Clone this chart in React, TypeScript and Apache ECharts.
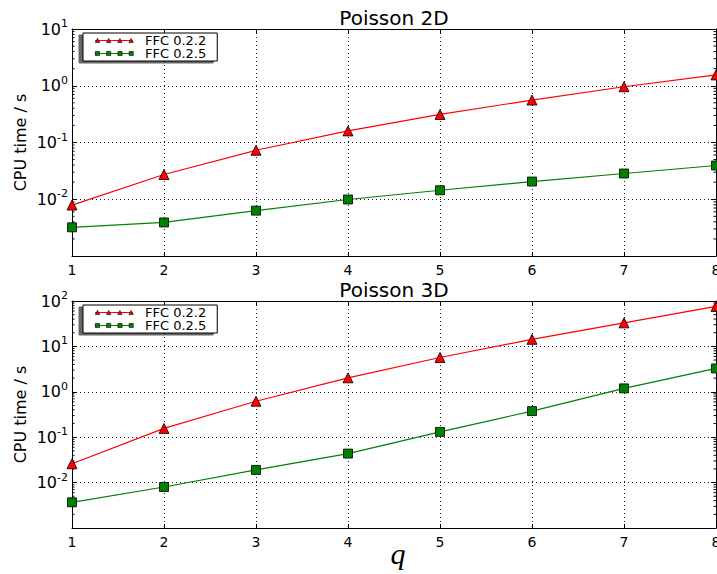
import React, { useEffect, useRef } from "react";
import * as echarts from "echarts";

// ---- data ----
const qValues = [1, 2, 3, 4, 5, 6, 7, 8];
const seriesNames = ["FFC 0.2.2", "FFC 0.2.5"];
const panelTitles = ["Poisson 2D", "Poisson 3D"];
const poisson2D_ffc022 = [0.0079, 0.0273, 0.073, 0.16, 0.312, 0.56, 0.96, 1.55];
const poisson2D_ffc025 = [0.0032, 0.0039, 0.0063, 0.0099, 0.0144, 0.0205, 0.0284, 0.0393];
const poisson3D_ffc022 = [0.026, 0.156, 0.62, 2.03, 5.7, 14.3, 33, 76];
const poisson3D_ffc025 = [0.00368, 0.008, 0.019, 0.0436, 0.131, 0.376, 1.19, 3.27];
const yMin = [0.001, 0.001];
const yMax = [10, 100];
const yAxisName = "CPU time / s";
const xAxisName = "q";
const minorMultipliers = [2, 3, 4, 5, 6, 7, 8, 9];
const decades2D = [0.001, 0.01, 0.1, 1];
const decades3D = [0.001, 0.01, 0.1, 1, 10];

const FONT = "DejaVu Sans";
const RED = "#ff0000";
const GREEN = "#008000";

const linePath = "path://M0,5.4L38,5.4L38,6.6L0,6.6Z";
const triPath =
  "path://M0,7.2L2.2,3L4.4,7.2Z M11.2,7.2L13.4,3L15.6,7.2Z M22.4,7.2L24.6,3L26.8,7.2Z M33.6,7.2L35.8,3L38,7.2Z";
const sqPath =
  "path://M0,3L4.2,3L4.2,7.2L0,7.2Z M11.2,3L15.4,3L15.4,7.2L11.2,7.2Z M22.6,3L26.8,3L26.8,7.2L22.6,7.2Z M33.8,3L38,3L38,7.2L33.8,7.2Z";

export default function App() {
  const ref = useRef<HTMLDivElement>(null);

  useEffect(() => {
    if (!ref.current) return;
    const chart = echarts.init(ref.current, undefined, { renderer: "svg" });

    const gridTops = [29, 301];
    const gridHeight = 227;
    const legendTops = [33, 305];
    const titleTops = [8, 280];
    const panelData = [
      [poisson2D_ffc022, poisson2D_ffc025],
      [poisson3D_ffc022, poisson3D_ffc025],
    ];
    const minorLists = [decades2D, decades3D].map((decs) => {
      const out: number[] = [];
      decs.forEach((d) => minorMultipliers.forEach((m) => out.push(+(d * m).toPrecision(3))));
      return out;
    });

    const grids: any[] = [];
    const xAxes: any[] = [];
    const yAxes: any[] = [];
    const series: any[] = [];
    const legends: any[] = [];
    const titles: any[] = [];

    const dotted = { color: "#222", width: 1, type: [1, 3] };

    for (let p = 0; p < 2; p++) {
      grids.push({
        left: 72,
        right: 1,
        top: gridTops[p],
        height: gridHeight,
        containLabel: false,
        outerBoundsMode: "none",
      });
      // bottom x axis
      xAxes.push({
        type: "value",
        gridIndex: p,
        min: 1,
        max: 8,
        interval: 1,
        position: "bottom",
        axisLine: { show: true, lineStyle: { color: "#000", width: 1 } },
        axisTick: { show: true, inside: true, length: 4, lineStyle: { color: "#000" } },
        axisLabel: { color: "#000", fontSize: 14, fontFamily: FONT, margin: 7 },
        splitLine: { show: true, lineStyle: dotted },
        ...(p === 1
          ? {
              name: xAxisName,
              nameLocation: "middle",
              nameGap: 10,
              nameMoveOverlap: false,
              nameTextStyle: {
                fontFamily: "Liberation Serif",
                fontStyle: "italic",
                fontSize: 30,
                lineHeight: 30,
                color: "#000",
                padding: [0, 0, 0, 8],
              },
            }
          : {}),
      });
      // top x axis (ticks only)
      xAxes.push({
        type: "value",
        gridIndex: p,
        min: 1,
        max: 8,
        interval: 1,
        position: "top",
        axisLine: { show: true, lineStyle: { color: "#000", width: 1 } },
        axisTick: { show: true, inside: true, length: 4, lineStyle: { color: "#000" } },
        axisLabel: { show: false },
        splitLine: { show: false },
      });
      // left y axis
      yAxes.push({
        type: "log",
        logBase: 10,
        gridIndex: p,
        min: yMin[p],
        max: yMax[p],
        splitNumber: p === 0 ? 4 : 5,
        position: "left",
        name: yAxisName,
        nameLocation: "middle",
        nameGap: 44,
        nameMoveOverlap: false,
        nameTextStyle: { color: "#000", fontSize: 16, fontFamily: FONT },
        axisLine: { show: true, lineStyle: { color: "#000", width: 1 } },
        axisTick: { show: true, inside: true, length: 5, lineStyle: { color: "#000" } },
        axisLabel: {
          showMinLabel: false,
          margin: 4,
          formatter: (v: number) => {
            const e = Math.round(Math.log10(v));
            return `{b|10}{s|${e}}`;
          },
          rich: {
            b: { fontSize: 16, lineHeight: 22, fontFamily: FONT, color: "#000" },
            s: { fontSize: 11, lineHeight: 12, verticalAlign: "top", fontFamily: FONT, color: "#000" },
          },
        },
        splitLine: { show: true, lineStyle: dotted },
      });
      // right y axis (ticks only)
      yAxes.push({
        type: "log",
        logBase: 10,
        gridIndex: p,
        min: yMin[p],
        max: yMax[p],
        splitNumber: p === 0 ? 4 : 5,
        position: "right",
        axisLine: { show: true, lineStyle: { color: "#000", width: 1 } },
        axisTick: { show: true, inside: true, length: 5, lineStyle: { color: "#000" } },
        axisLabel: { show: false },
        splitLine: { show: false },
      });

      const xi = p * 2;
      const yi = p * 2;
      // minor ticks on the log axes, placed through the axis scale
      series.push({
        type: "custom",
        name: "minor-ticks-" + p,
        xAxisIndex: xi,
        yAxisIndex: yi,
        silent: true,
        clip: false,
        z: 1,
        encode: { x: 0, y: 1 },
        data: minorLists[p].map((v) => [1, v]),
        renderItem: (_params: any, api: any) => {
          const v = api.value(1);
          const l = api.coord([1, v]);
          const r = api.coord([8, v]);
          const st = { stroke: "#000", lineWidth: 1 };
          return {
            type: "group",
            children: [
              { type: "line", shape: { x1: l[0], y1: l[1], x2: l[0] + 2.5, y2: l[1] }, style: st },
              { type: "line", shape: { x1: r[0] - 2.5, y1: r[1], x2: r[0], y2: r[1] }, style: st },
            ],
          };
        },
      });

      const [d022, d025] = panelData[p];
      series.push({
        name: seriesNames[0],
        type: "line",
        xAxisIndex: xi,
        yAxisIndex: yi,
        data: qValues.map((q, i) => [q, d022[i]]),
        symbol: "triangle",
        symbolSize: [10, 10],
        lineStyle: { color: RED, width: 1.2 },
        itemStyle: { color: RED, borderColor: "#000", borderWidth: 0.8 },
        z: 3,
      });
      series.push({
        name: seriesNames[1],
        type: "line",
        xAxisIndex: xi,
        yAxisIndex: yi,
        data: qValues.map((q, i) => [q, d025[i]]),
        symbol: "rect",
        symbolSize: 9,
        lineStyle: { color: GREEN, width: 1.2 },
        itemStyle: { color: GREEN, borderColor: "#000", borderWidth: 0.8 },
        z: 3,
      });

      const legendBase = {
        orient: "vertical",
        align: "left",
        left: 83,
        padding: [1, 11, 1, 12],
        itemWidth: 38,
        itemHeight: 13,
        selectedMode: false,
        borderWidth: 1,
      };
      legends.push({
        ...legendBase,
        top: legendTops[p],
        itemGap: 0,
        z: 4,
        backgroundColor: "#fff",
        borderColor: "#000",
        shadowColor: "rgba(0,0,0,0.6)",
        shadowBlur: 0,
        shadowOffsetX: -4,
        shadowOffsetY: 2,
        textStyle: { color: "#000", fontSize: 13, fontFamily: FONT, lineHeight: 13, padding: [0, 0, 0, 7] },
        data: [
          { name: seriesNames[0], icon: linePath, itemStyle: { color: RED, borderWidth: 0 } },
          { name: seriesNames[1], icon: linePath, itemStyle: { color: GREEN, borderWidth: 0 } },
        ],
      });
      // marker overlay for the legend icons (no text); its content box starts at the icon top
      legends.push({
        ...legendBase,
        top: legendTops[p] + 4.1,
        itemGap: 8.2,
        z: 5,
        backgroundColor: "transparent",
        borderColor: "transparent",
        formatter: () => "",
        textStyle: { color: "transparent", fontSize: 13, fontFamily: FONT, lineHeight: 13 },
        data: [
          { name: seriesNames[0], icon: triPath, itemStyle: { color: RED, borderColor: "#000", borderWidth: 0.6 } },
          { name: seriesNames[1], icon: sqPath, itemStyle: { color: GREEN, borderColor: "#000", borderWidth: 0.6 } },
        ],
      });

      titles.push({
        text: panelTitles[p],
        left: 394,
        top: titleTops[p],
        textAlign: "center",
        padding: 0,
        textStyle: { color: "#000", fontSize: 20, fontWeight: "normal", fontFamily: FONT, lineHeight: 20 },
      });
    }

    chart.setOption({
      animation: false,
      backgroundColor: "#fff",
      textStyle: { fontFamily: FONT },
      title: titles,
      grid: grids,
      xAxis: xAxes,
      yAxis: yAxes,
      legend: legends,
      series,
    });

    return () => chart.dispose();
  }, []);

  return (
    <div
      ref={ref}
      style={{ position: "fixed", left: 0, top: 0, width: 717, height: 574, background: "#fff" }}
    />
  );
}
